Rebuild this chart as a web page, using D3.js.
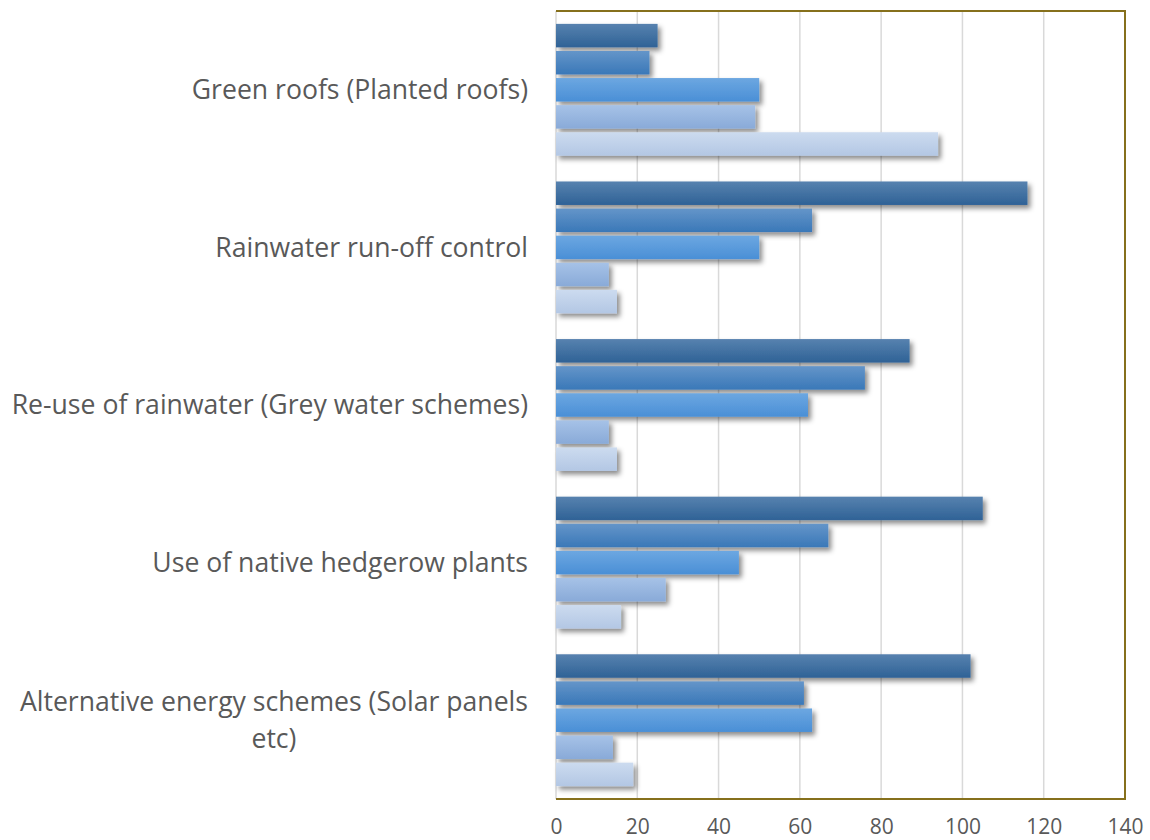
<!DOCTYPE html>
<html><head><meta charset="utf-8">
<script src="https://cdn.jsdelivr.net/npm/d3@7/dist/d3.min.js"></script>
<style>body{margin:0;background:#fff}svg{display:block}text{font-family:"Open Sans",sans-serif;fill:#595959}</style>
</head><body><div id="chart"></div>
<script>
const categories = ["Green roofs (Planted roofs)","Rainwater run-off control","Re-use of rainwater (Grey water schemes)","Use of native hedgerow plants","Alternative energy schemes (Solar panels etc)"];
const seriesNames = ["S1","S2","S3","S4","S5"];
const series1 = [25,116,87,105,102];
const series2 = [23,63,76,67,61];
const series3 = [50,50,62,45,63];
const series4 = [49,13,13,27,14];
const series5 = [94,15,15,16,19];
const tickValues = [0,20,40,60,80,100,120,140];
const allSeries = [series1,series2,series3,series4,series5];
const gradStops = [["#5782AF","#2F6296"],["#6495C9","#3A78B8"],["#6CA7E1","#4A8FD6"],["#A6C2E7","#89AAD8"],["#CCDBEF","#B3C7E4"]];

const W=1150,H=840, L=556, R=1125, T=11, B=799;
const svg=d3.select("#chart").append("svg").attr("width",W).attr("height",H);
const defs=svg.append("defs");
const f=defs.append("filter").attr("id","sh").attr("x","-10%").attr("y","-30%").attr("width","130%").attr("height","200%");
f.append("feDropShadow").attr("dx",3).attr("dy",3.5).attr("stdDeviation",2.6).attr("flood-color","#000").attr("flood-opacity",0.45);
gradStops.forEach((g,i)=>{
  const lg=defs.append("linearGradient").attr("id","g"+i).attr("x1",0).attr("y1",0).attr("x2",0).attr("y2",1);
  lg.append("stop").attr("offset","0%").attr("stop-color",g[0]);
  lg.append("stop").attr("offset","100%").attr("stop-color",g[1]);
});

const x=d3.scaleLinear().domain([0,140]).range([L,R]);
const y0=d3.scaleBand().domain(categories).range([T,B]).padding(0);
const y1=d3.scaleBand().domain(seriesNames).range([0,y0.bandwidth()]).paddingInner(0.133).paddingOuter(0.475);

svg.append("g").selectAll("line").data(tickValues.slice(1,-1)).join("line")
  .attr("x1",d=>x(d)).attr("x2",d=>x(d)).attr("y1",T).attr("y2",B)
  .attr("stroke","#D9D9D9").attr("stroke-width",1.5);
svg.append("line").attr("x1",L).attr("x2",L).attr("y1",T).attr("y2",B).attr("stroke","#D9D9D9").attr("stroke-width",1.5);

const gg=svg.append("g");
categories.forEach((c,ci)=>{
  allSeries.forEach((s,si)=>{
    gg.append("rect").attr("x",x(0)).attr("y",y0(c)+y1(seriesNames[si]))
      .attr("width",x(s[ci])-x(0)).attr("height",y1.bandwidth())
      .attr("fill","url(#g"+si+")").attr("filter","url(#sh)");
  });
});

svg.append("path").attr("d",`M${L},${T}H${R}V${B}H${L}`).attr("fill","none").attr("stroke","#86701C").attr("stroke-width",2);

const xa=d3.axisBottom(x).tickValues(tickValues).tickSize(0).tickPadding(20);
const xg=svg.append("g").attr("transform",`translate(0,${B})`).call(xa);
xg.select(".domain").remove();
xg.selectAll("text").style("font-family","'Open Sans',sans-serif").style("font-size","21px").attr("fill","#595959");

const labelX=528, fs="26.6px";
categories.forEach((c,ci)=>{
  const cy=y0(c)+y0.bandwidth()/2;
  if(ci===4){
    const t1=svg.append("text").attr("x",labelX).attr("y",cy-18.5).attr("text-anchor","end").attr("dy","0.35em").style("font-size",fs).text("Alternative energy schemes (Solar panels");
    const w=t1.node().getComputedTextLength();
    svg.append("text").attr("x",labelX-w/2).attr("y",cy+18.5).attr("text-anchor","middle").attr("dy","0.35em").style("font-size",fs).text("etc)");
  } else {
    svg.append("text").attr("x",labelX).attr("y",cy).attr("text-anchor","end").attr("dy","0.35em").style("font-size",fs).text(c);
  }
});
</script></body></html>
